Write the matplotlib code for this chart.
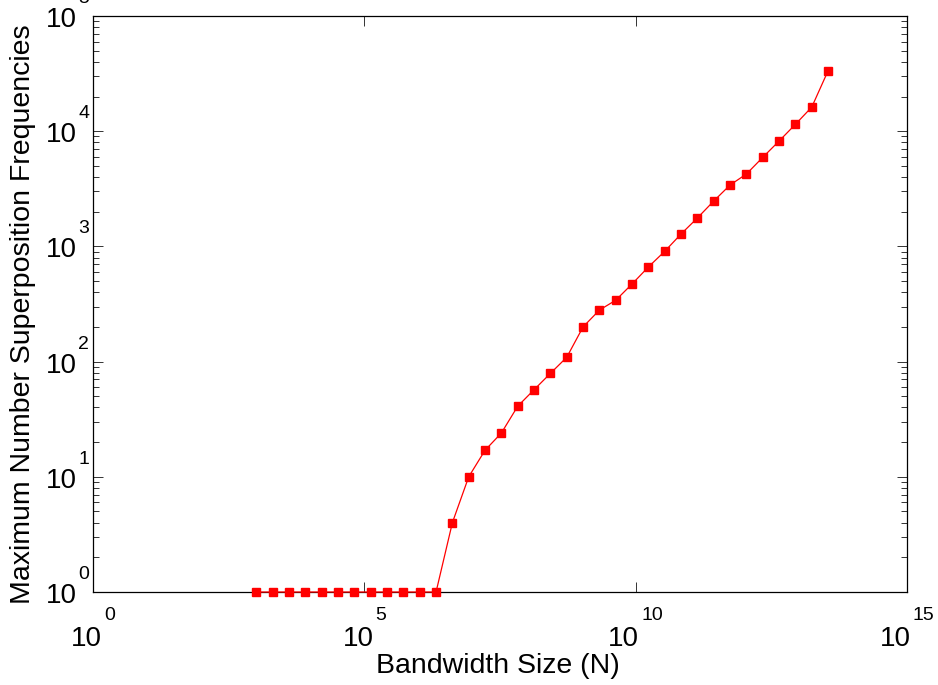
import matplotlib
matplotlib.use("Agg")
import matplotlib.pyplot as plt
import matplotlib.ticker as mticker
from matplotlib.transforms import offset_copy
import numpy as np

plt.rcParams['font.family'] = ['Liberation Sans', 'DejaVu Sans']

# bandwidth sizes N = 2^k, k = 10..45
exponents = list(range(10, 46))
bandwidth = [2.0 ** k for k in exponents]
max_freq = [1] * 12 + [4, 10, 17, 24, 41, 57, 79, 109, 200, 280, 341, 472,
                       663, 907, 1282, 1766, 2478, 3413, 4250, 5930, 8220,
                       11480, 16200, 33500]

x_decades = [0, 5, 10, 15]
y_decades = [0, 1, 2, 3, 4, 5]

W, H = 938, 685
fig = plt.figure(figsize=(W / 100, H / 100), dpi=100)
ax = fig.add_axes([93 / W, (H - 592) / H, (907 - 93) / W, (592 - 16) / H])

ax.plot(bandwidth, max_freq, '-s', color='red', lw=0.9, ms=5.8,
        mfc='red', mec='red', clip_on=False, zorder=3)

ax.set_xscale('log')
ax.set_yscale('log')
ax.set_xlim(1, 1e15)
ax.set_ylim(1, 1e5)

ax.xaxis.set_major_locator(mticker.FixedLocator([10.0 ** e for e in x_decades]))
ax.xaxis.set_minor_locator(mticker.NullLocator())
ax.yaxis.set_major_locator(mticker.FixedLocator([10.0 ** e for e in y_decades]))
ax.yaxis.set_minor_locator(mticker.LogLocator(base=10, subs=np.arange(2, 10)))
ax.xaxis.set_major_formatter(mticker.NullFormatter())
ax.yaxis.set_major_formatter(mticker.NullFormatter())
ax.yaxis.set_minor_formatter(mticker.NullFormatter())

ax.tick_params(which='both', direction='in', top=True, right=True,
               color='#333333', width=0.7)
ax.tick_params(which='major', length=7)
ax.tick_params(which='minor', length=4)
for s in ax.spines.values():
    s.set_linewidth(0.9)
    s.set_color('black')

renderer = fig.canvas.get_renderer()


def text_width(s, size):
    t = fig.text(0, 0, s, fontsize=size)
    w = t.get_window_extent(renderer).width
    t.remove()
    return w


# MATLAB-style "10^n" tick labels, whole label centred on the tick
xt = ax.get_xaxis_transform()
gap = 2
for e in x_decades:
    w10 = text_width('10', 20)
    we = text_width(str(e), 14)
    left = -(w10 + gap + we) / 2
    base = offset_copy(xt, fig=fig, x=left, y=-54, units='dots')
    ax.text(10.0 ** e, 0, '10', transform=base, ha='left', va='baseline',
            fontsize=20, clip_on=False)
    sup = offset_copy(xt, fig=fig, x=left + w10 + gap, y=-28, units='dots')
    ax.text(10.0 ** e, 0, str(e), transform=sup, ha='left', va='baseline',
            fontsize=14, clip_on=False)

yt = ax.get_yaxis_transform()
for e in y_decades:
    base = offset_copy(yt, fig=fig, x=-16, y=-11, units='dots')
    ax.text(0, 10.0 ** e, '10', transform=base, ha='right', va='baseline',
            fontsize=20, clip_on=False)
    sup = offset_copy(yt, fig=fig, x=-15, y=13, units='dots')
    ax.text(0, 10.0 ** e, str(e), transform=sup, ha='left', va='baseline',
            fontsize=14, clip_on=False)

fig.text(498 / W, 1 - 673 / H, 'Bandwidth Size (N)', ha='center',
         va='baseline', fontsize=20.5)
fig.text(23 / W, 1 - 314 / H, 'Maximum Number Superposition Frequencies',
         ha='center', va='center', rotation=90, fontsize=20.5)

fig.savefig('out.png', dpi=100, facecolor='white')
